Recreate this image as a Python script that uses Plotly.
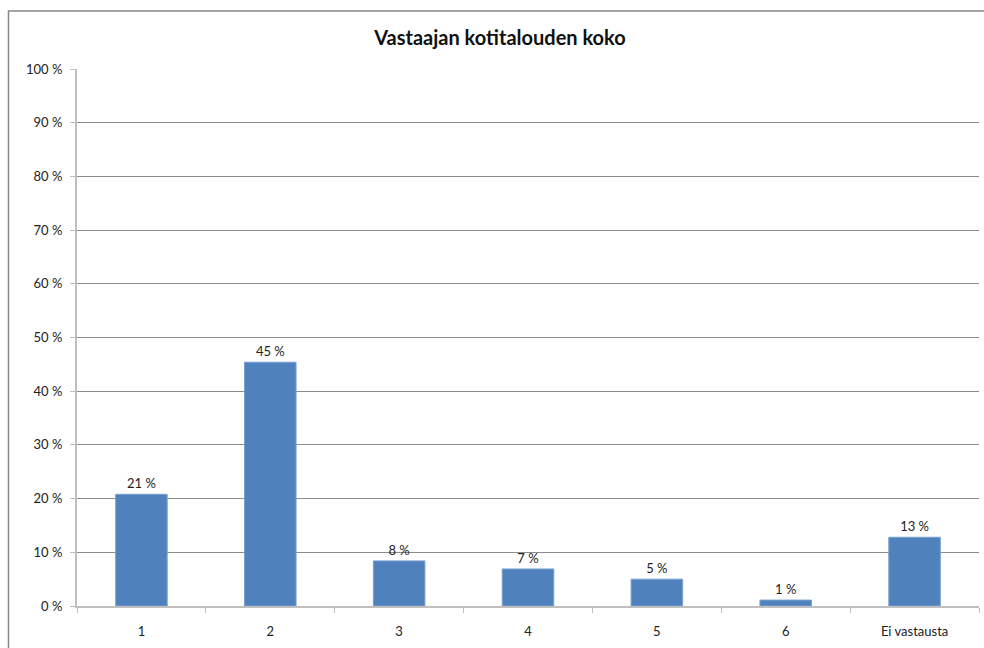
import plotly.graph_objects as go

categories = ["1", "2", "3", "4", "5", "6", "Ei vastausta"]
values = [20.8, 45.4, 8.4, 6.9, 5.0, 1.1, 12.8]
labels = ["21 %", "45 %", "8 %", "7 %", "5 %", "1 %", "13 %"]
y_ticks = [0, 10, 20, 30, 40, 50, 60, 70, 80, 90, 100]
y_tick_text = [f"{t} %" for t in y_ticks]

W, H = 984, 648
L, R, T, B = 77, 5, 69, 42
pw, ph = W - L - R, H - T - B

FONT = "Lato, Open Sans, sans-serif"

fig = go.Figure(go.Bar(
    x=categories, y=values, text=labels, textposition="outside",
    textfont=dict(size=13, color="#222222", family=FONT),
    marker=dict(color="#4F81BD", line=dict(color="#7aa0d0", width=1)),
    cliponaxis=False,
))

fx0 = (8.5 - L) / pw
fx1 = (W + 30 - L) / pw
fy0 = -(B + 30) / ph
fy1 = 1 + (T - 11) / ph

fig.update_layout(
    width=W, height=H,
    margin=dict(l=L, r=R, t=T, b=B),
    paper_bgcolor="white", plot_bgcolor="white",
    bargap=0.6,
    showlegend=False,
    title=dict(text="<b>Vastaajan kotitalouden koko</b>", x=500 / W, xanchor="center",
               y=1 - 38 / H, yanchor="middle",
               font=dict(size=20, color="#111111", family=FONT)),
    font=dict(family=FONT, size=13, color="#333333"),
    xaxis=dict(type="category", showline=True, linecolor="#bfbfbf", linewidth=2,
               ticks="outside", tickson="boundaries", ticklen=5, tickcolor="#bfbfbf",
               tickwidth=1, showgrid=False, ticklabelstandoff=12,
               tickfont=dict(size=13, color="#222222")),
    yaxis=dict(range=[0, 100], tickvals=y_ticks, ticktext=y_tick_text, showline=True,
               linecolor="#bfbfbf", linewidth=2, ticks="outside", ticklen=5,
               tickcolor="#bfbfbf", showgrid=True, gridcolor="#8c8c8c", gridwidth=1,
               zeroline=False, ticklabelstandoff=5,
               tickfont=dict(size=13, color="#222222")),
    shapes=[dict(type="path", xref="paper", yref="paper",
                 path=f"M {fx0},{fy0} L {fx0},{fy1} L {fx1},{fy1}",
                 line=dict(color="#888888", width=1.5), layer="below")],
)

fig.write_html(
    "out.html",
    config={"displayModeBar": False},
    post_script=(
        "document.documentElement.style.overflow='hidden';"
        "document.body.style.margin='0';document.body.style.overflow='hidden';"
    ),
)
